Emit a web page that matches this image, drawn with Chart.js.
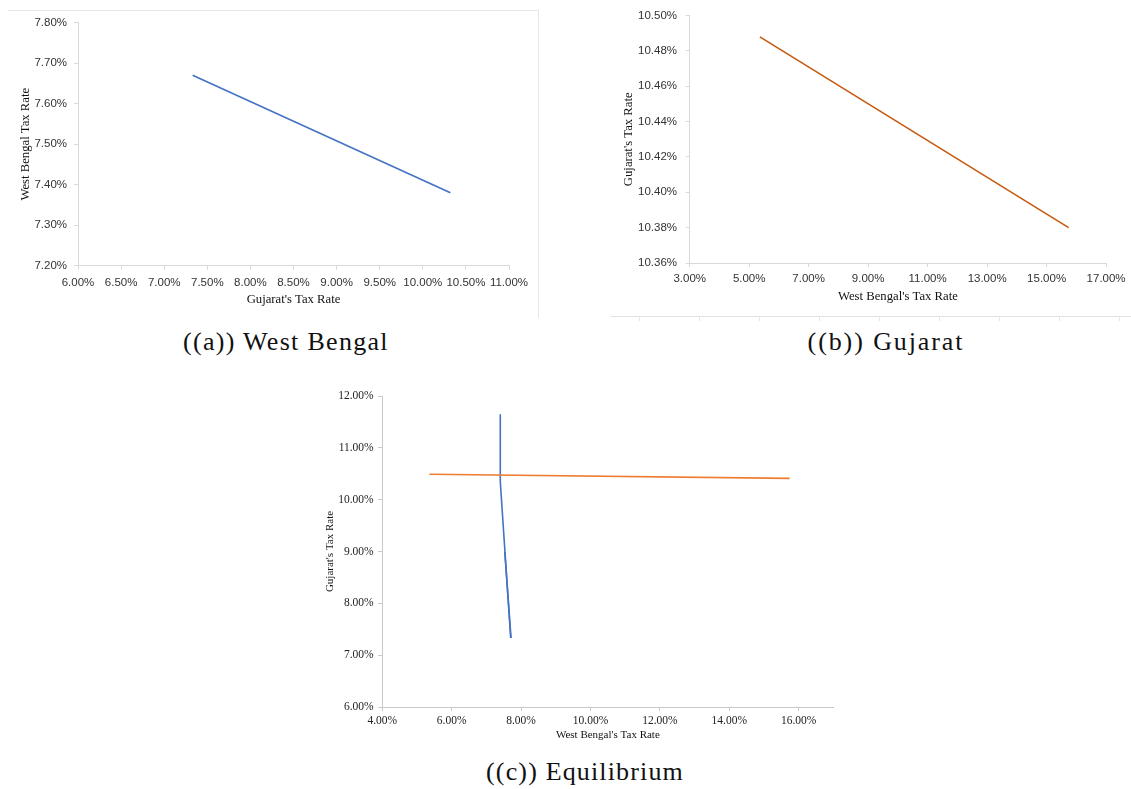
<!DOCTYPE html>
<html>
<head>
<meta charset="utf-8">
<script src="https://cdn.jsdelivr.net/npm/chart.js@4.4.0/dist/chart.umd.min.js"></script>
<style>
  html, body { margin: 0; padding: 0; background: #fff; }
  body { width: 1131px; height: 789px; position: relative; overflow: hidden; }
  canvas, .deco { position: absolute; }
  .caption { position: absolute; font-family: 'Liberation Serif', 'Times New Roman', serif; font-size: 26px;
             color: #111; white-space: nowrap; transform: translate(-50%, -50%); }
</style>
</head>
<body>
<div class="deco" style="left:8px;top:10px;width:530px;height:307px;border-top:1px solid #e6e6e6;border-right:1px solid #e6e6e6;"></div>
<div class="deco" style="left:610px;top:316px;width:521px;height:4px;border-top:1px solid #e3e3e3;
     background:repeating-linear-gradient(to right, transparent 0 29px, #e6e6e6 29px 30px, transparent 30px 60px);"></div>

<canvas id="chartA" width="545" height="322" style="left:0;top:0"></canvas>
<canvas id="chartB" width="531" height="322" style="left:600px;top:0"></canvas>
<canvas id="chartC" width="540" height="370" style="left:310px;top:380px"></canvas>

<div class="caption" style="left:286px;top:342px;letter-spacing:1.3px">((a)) West Bengal</div>
<div class="caption" style="left:886px;top:342px;letter-spacing:1.9px">((b)) Gujarat</div>
<div class="caption" style="left:585px;top:772px;letter-spacing:1.15px">((c)) Equilibrium</div>

<script>
// (a) West Bengal's best response to Gujarat's rate
const aGujRate = [7.33, 10.32];
const aWbRate = [7.67, 7.38];
const aXTicks = [6, 6.5, 7, 7.5, 8, 8.5, 9, 9.5, 10, 10.5, 11];
const aYTicks = [7.2, 7.3, 7.4, 7.5, 7.6, 7.7, 7.8];

// (b) Gujarat's best response to West Bengal's rate
const bWbRate = [5.36, 15.74];
const bGujRate = [10.488, 10.38];
const bXTicks = [3, 5, 7, 9, 11, 13, 15, 17];
const bYTicks = [10.36, 10.38, 10.40, 10.42, 10.44, 10.46, 10.48, 10.50];

// (c) both curves together
const cGujX = [5.36, 15.74];
const cGujY = [10.49, 10.41];
const cWbX = [7.40, 7.40, 7.70];
const cWbY = [11.65, 10.35, 7.33];
const cWbX2 = [7.53, 7.71];
const cWbY2 = [8.99, 7.33];
const cXTicks = [4, 6, 8, 10, 12, 14, 16];
const cYTicks = [6, 7, 8, 9, 10, 11, 12];

const sans = "'Liberation Sans', Arial, sans-serif";
const serif = "'Liberation Serif', 'Times New Roman', serif";

function points(xs, ys) {
    return xs.map((x, i) => ({ x: x, y: ys[i] }));
}

function line(xs, ys, color) {
    return {
        data: points(xs, ys),
        showLine: true,
        borderColor: color,
        borderWidth: 1.6,
        pointRadius: 0,
        tension: 0
    };
}

function scaleCfg(o) {
    return {
        type: 'linear',
        position: o.isX ? 'bottom' : 'left',
        min: o.min,
        max: o.max,
        afterBuildTicks: s => { s.ticks = o.ticks.map(v => ({ value: v })); },
        afterFit: s => { if (o.isX) s.height = o.size; else s.width = o.size; },
        grid: { drawOnChartArea: false, drawTicks: true, tickLength: 4, tickColor: o.color },
        border: { color: o.color, width: 1 },
        ticks: {
            padding: o.tickPad,
            color: o.tickColor,
            font: o.tickFont,
            autoSkip: false,
            maxRotation: 0,
            callback: v => v.toFixed(2) + '%'
        },
        title: {
            display: true,
            text: o.title,
            color: '#111',
            font: o.titleFont,
            padding: o.isX ? { top: 0, bottom: o.titlePad } : { top: o.titlePad, bottom: 0 }
        }
    };
}

function makeChart(id, datasets, xCfg, yCfg, pad) {
    return new Chart(document.getElementById(id), {
        type: 'scatter',
        data: { datasets: datasets },
        options: {
            responsive: false,
            animation: false,
            layout: { padding: pad },
            plugins: { legend: { display: false }, tooltip: { enabled: false } },
            scales: { x: scaleCfg(xCfg), y: scaleCfg(yCfg) }
        }
    });
}

// Chart (a)
makeChart('chartA',
    [line(aGujRate, aWbRate, '#4472C4')],
    { isX: true, min: 6, max: 11, ticks: aXTicks, size: 56.3, tickPad: 6, color: '#d9d9d9', tickColor: '#333',
      tickFont: { family: sans, size: 11.5 }, title: "Gujarat's Tax Rate", titleFont: { family: serif, size: 12.7 }, titlePad: 14.4 },
    { isX: false, min: 7.2, max: 7.8, ticks: aYTicks, size: 78, tickPad: 7, color: '#d9d9d9', tickColor: '#333',
      tickFont: { family: sans, size: 11.5 }, title: 'West Bengal Tax Rate', titleFont: { family: serif, size: 12.7 }, titlePad: 17.8 },
    { left: 0, top: 22.7, right: 36, bottom: 0 }
);

// Chart (b)
makeChart('chartB',
    [line(bWbRate, bGujRate, '#C55A11')],
    { isX: true, min: 3, max: 17, ticks: bXTicks, size: 59, tickPad: 5.4, color: '#d9d9d9', tickColor: '#333',
      tickFont: { family: sans, size: 11.5 }, title: "West Bengal's Tax Rate", titleFont: { family: serif, size: 12.7 }, titlePad: 17.7 },
    { isX: false, min: 10.36, max: 10.50, ticks: bYTicks, size: 89.7, tickPad: 8.7, color: '#d9d9d9', tickColor: '#333',
      tickFont: { family: sans, size: 11.5 }, title: "Gujarat's Tax Rate", titleFont: { family: serif, size: 12.7 }, titlePad: 21.2 },
    { left: 0, top: 10.7, right: 18.6, bottom: 0 }
);

// Chart (c)
makeChart('chartC',
    [line(cGujX, cGujY, '#ED7D31'), line(cWbX, cWbY, '#4472C4'), line(cWbX2, cWbY2, '#4472C4')],
    { isX: true, min: 4, max: 17, ticks: cXTicks, size: 43, tickPad: 2.8, color: '#c8c8c8', tickColor: '#222',
      tickFont: { family: serif, size: 11.5 }, title: "West Bengal's Tax Rate", titleFont: { family: serif, size: 11 }, titlePad: 8.1 },
    { isX: false, min: 6, max: 12, ticks: cYTicks, size: 72.3, tickPad: 4.6, color: '#c8c8c8', tickColor: '#222',
      tickFont: { family: serif, size: 11.5 }, title: "Gujarat's Tax Rate", titleFont: { family: serif, size: 11 }, titlePad: 13.4 },
    { left: 0, top: 16, right: 16.6, bottom: 0 }
);
</script>
</body>
</html>
